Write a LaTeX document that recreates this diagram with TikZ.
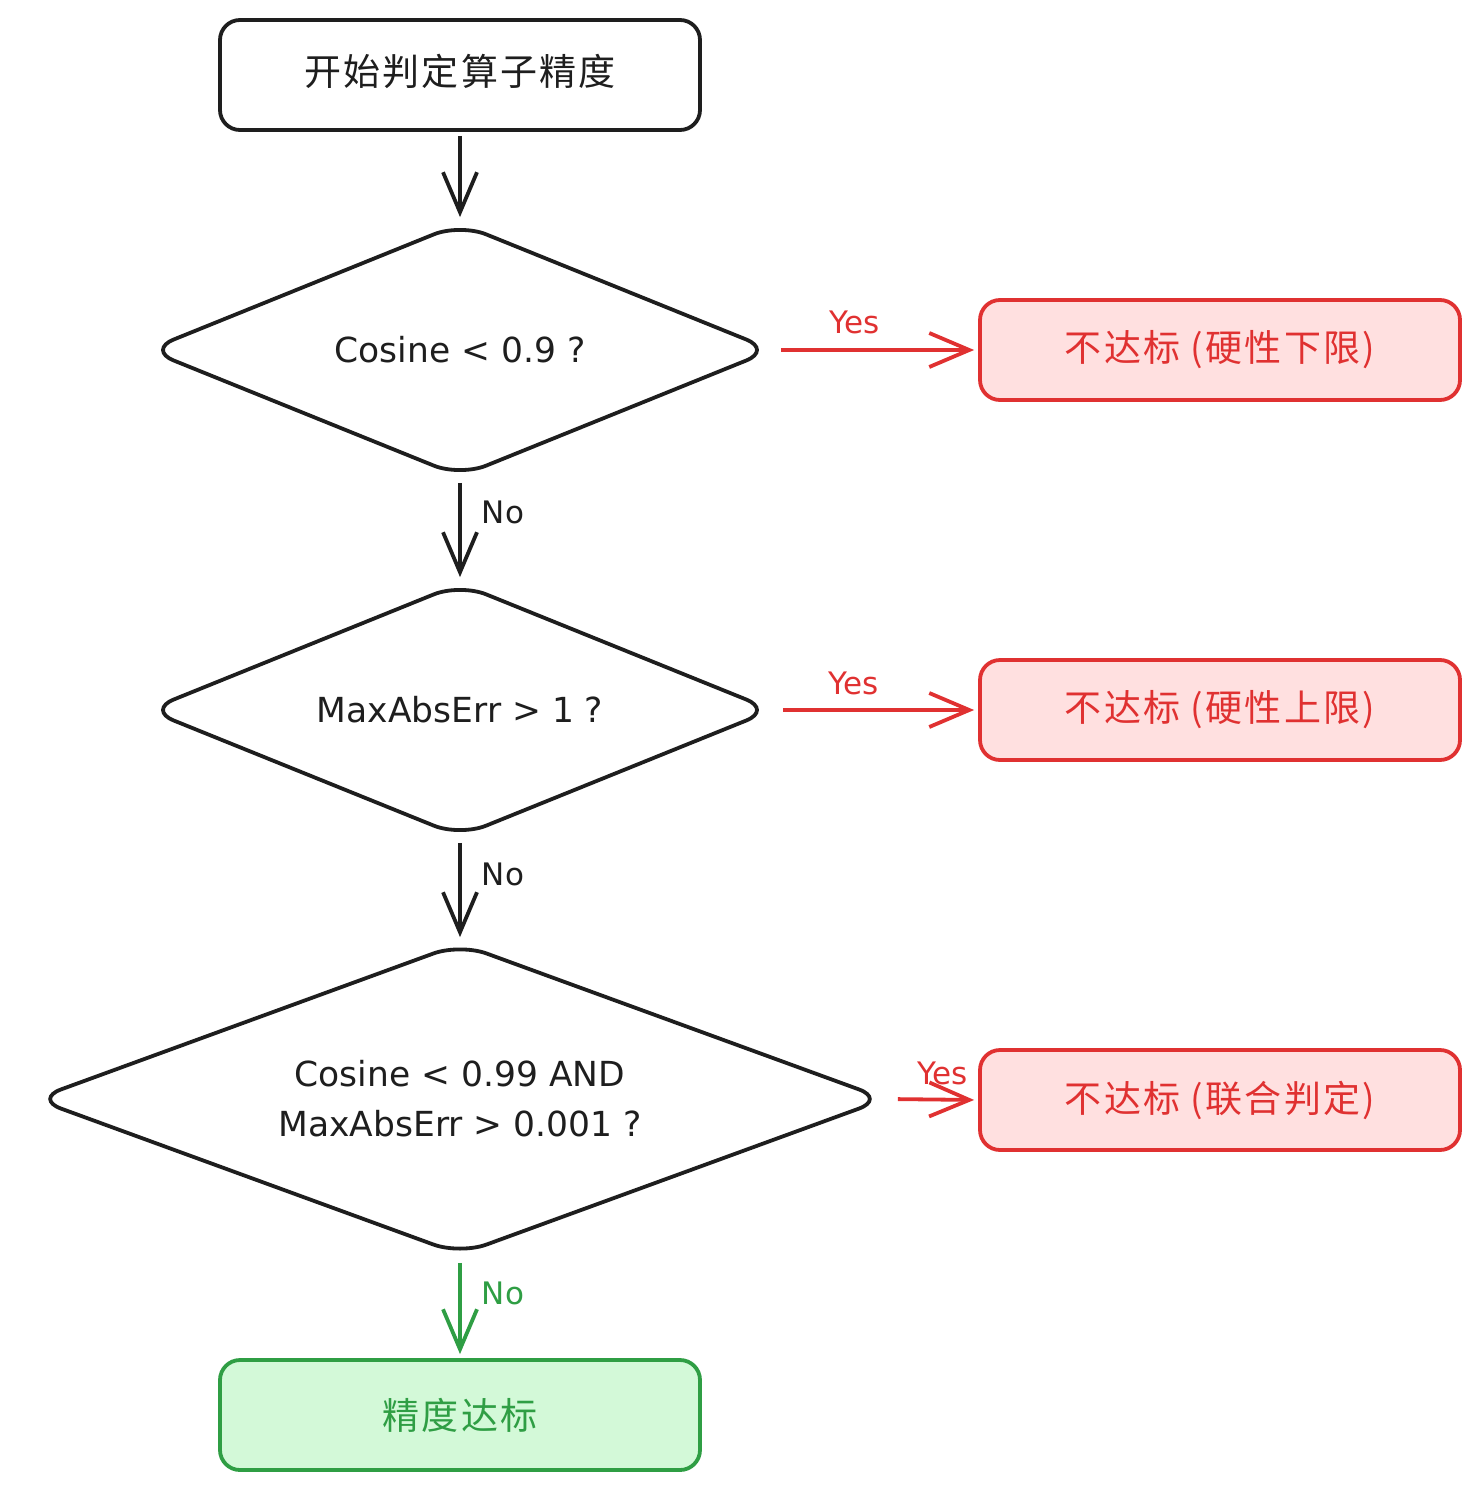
\documentclass[tikz,border=0pt]{standalone}
\usepackage{fontspec}
\setmainfont{Noto Sans CJK SC}
\newfontfamily\cjkwide[LetterSpace=6]{Noto Sans CJK SC}
\newfontfamily\latinf{DejaVu Sans}
\usetikzlibrary{shapes.geometric,arrows.meta}
\definecolor{ink}{HTML}{1E1E1E}
\definecolor{redS}{HTML}{E03131}
\definecolor{redF}{HTML}{FFE0E0}
\definecolor{grnS}{HTML}{2F9E44}
\definecolor{grnF}{HTML}{D3F9D8}
\tikzset{
  box/.style={draw=ink, line width=3.8pt, rounded corners=20pt, minimum width=480pt, minimum height=110pt, inner sep=0pt, font=\cjkwide\fontsize{37}{40}\selectfont, text=ink},
  failbox/.style={box, draw=redS, fill=redF, text=redS, minimum height=100pt},
  okbox/.style={box, draw=grnS, fill=grnF, text=grnS},
  decision/.style={diamond, draw=ink, line width=3.8pt, rounded corners=28pt, inner sep=0pt},
  dtext/.style={font=\latinf\fontsize{34.5}{50}\selectfont, text=ink, align=center, inner sep=0pt},
  flow/.style={draw=ink, line width=3.8pt, -{Straight Barb[length=40pt,width=34pt,line width=3.8pt]}, shorten <=4pt, shorten >=4pt},
  yesflow/.style={flow, draw=redS},
  noflow/.style={flow, draw=grnS},
  lbl/.style={font=\latinf\fontsize{31}{34}\selectfont, text=ink, inner sep=0pt},
}
\begin{document}
\begin{tikzpicture}[x=1pt,y=-1pt]
\useasboundingbox (0,0) rectangle (1480,1490);
\node[box] (start) at (460,75) {\raisebox{10pt}{开始判定算子精度}};
\node[decision, minimum width=626pt, minimum height=254pt] (d1) at (460,350) {};
\node[dtext] (t1) at (d1.center) {Cosine < 0.9 ?};
\node[decision, minimum width=626pt, minimum height=254pt] (d2) at (460,710) {};
\node[dtext] (t2) at (d2.center) {MaxAbsErr > 1 ?};
\node[decision, minimum width=852pt, minimum height=312pt] (d3) at (460,1099) {};
\node[dtext] (t3) at (d3.center) {Cosine < 0.99 AND\\MaxAbsErr > 0.001 ?};
\node[failbox] (f1) at (1220,350) {不达标 (硬性下限)};
\node[failbox] (f2) at (1220,710) {不达标 (硬性上限)};
\node[failbox] (f3) at (1220,1100) {不达标 (联合判定)};
\node[okbox] (ok) at (460,1415) {精度达标};

\draw[flow] (start.south) -- (d1.north);
\draw[flow] (d1.south) -- (d2.north) node[lbl, midway, anchor=west, xshift=20pt, yshift=18pt] {No};
\draw[flow] (d2.south) -- (d3.north) node[lbl, midway, anchor=west, xshift=20pt, yshift=16pt] {No};
\draw[noflow, shorten <=6pt] (d3.south) -- (ok.north) node[lbl, text=grnS, midway, anchor=west, xshift=20pt, yshift=14pt] {No};
\draw[yesflow, shorten <=6pt] (d1.east) -- (f1.west) node[lbl, text=redS, midway, xshift=-22pt, yshift=28pt] {Yes};
\draw[yesflow, shorten <=8pt] (d2.east) -- (f2.west) node[lbl, text=redS, midway, xshift=-23pt, yshift=27pt] {Yes};
\draw[yesflow, shorten <=10pt] (d3.east) -- (f3.west) node[lbl, text=redS, midway, xshift=10pt, yshift=26pt] {Yes};
\end{tikzpicture}
\end{document}
